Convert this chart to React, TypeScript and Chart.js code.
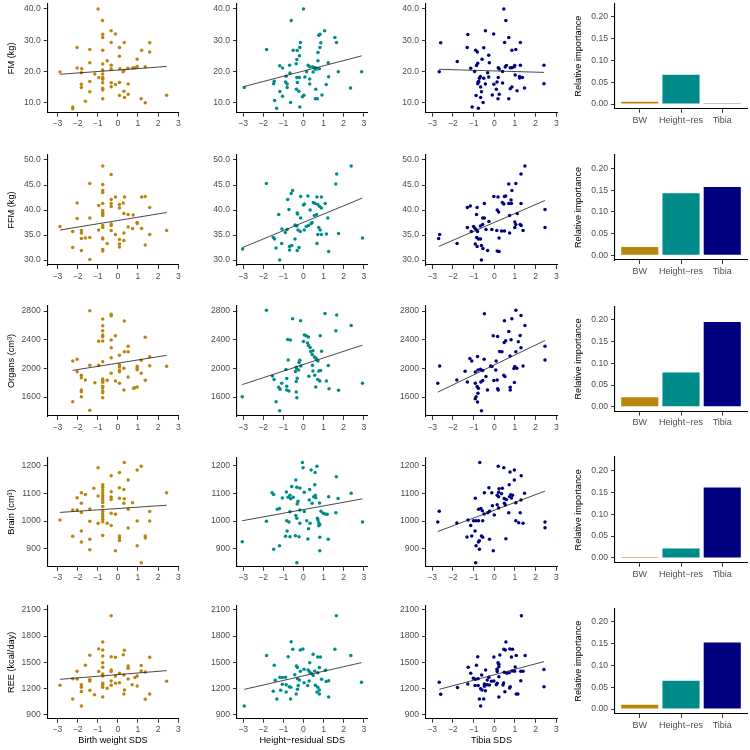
import React, { useEffect, useRef } from "react";
import { Chart, registerables } from "chart.js";

Chart.register(...registerables);

// ---------------- data ----------------
const xTickValues = [-3, -2, -1, 0, 1, 2, 3];
const fmTicks = [10, 20, 30, 40];
const ffmTicks = [30, 35, 40, 45, 50];
const organTicks = [1600, 2000, 2400, 2800];
const brainTicks = [900, 1000, 1100, 1200];
const reeTicks = [900, 1200, 1500, 1800, 2100];
const barTicks = [0, 0.05, 0.1, 0.15, 0.2];
const barCategories = ["BW", "Height\u2212res", "Tibia"];
const predictorTitles = ["Birth weight SDS", "Height\u2212residual SDS", "Tibia SDS"];
const outcomeTitles = ["FM (kg)", "FFM (kg)", "Organs (cm\u00b3)", "Brain (cm\u00b3)", "REE (kcal/day)"];
const importanceTitle = "Relative importance";

type P = [number, number][];

const fmBW: P = [[-0.98,40.0],[-0.76,36.3],[-0.75,31.9],[-0.75,30.9],[-0.33,33.0],[-0.12,32.0],[-0.33,29.3],[0.32,29.3],[1.58,29.2],[-2.02,27.7],[-1.39,27.0],[-0.75,26.8],[0.08,27.7],[1.18,26.8],[1.58,26.2],[0.08,24.9],[0.96,23.9],[-1.39,22.8],[-0.53,23.4],[-0.75,22.4],[-0.33,22.0],[-0.33,20.8],[-2.02,21.1],[-1.79,20.9],[0.1,20.9],[0.5,21.0],[0.73,21.1],[0.85,21.2],[0.96,21.6],[1.36,21.5],[-2.87,19.8],[-1.81,19.6],[-1.14,19.2],[-0.95,18.1],[-0.75,20.5],[-0.75,19.2],[-0.75,18.1],[-0.75,17.5],[-0.75,16.4],[0.3,20.3],[0.26,19.9],[-1.39,16.8],[-0.33,16.4],[-0.33,15.1],[0.08,16.5],[-0.12,15.8],[0.51,16.0],[-1.81,15.9],[-1.81,14.9],[-0.75,14.6],[-0.75,14.1],[-1.39,13.5],[0.3,13.7],[0.08,12.3],[0.33,11.7],[0.51,12.7],[2.42,12.4],[-0.75,11.3],[1.16,11.3],[-1.61,10.5],[1.36,10.0],[-2.24,8.6],[-2.24,8.1]];
const fmHres: P = [[0,40.0],[-0.61,36.3],[1.05,33.0],[0.82,31.9],[0.76,31.6],[1.56,30.9],[1.64,29.3],[-0.15,29.3],[0.86,29.2],[-1.83,27.0],[-0.18,27.7],[0.82,27.7],[-0.51,26.8],[-0.31,26.7],[0.72,26.1],[-0.2,25.0],[-0.33,23.8],[-0.36,22.5],[0.72,23.4],[1.23,22.8],[-0.69,22.0],[-1.18,21.8],[-1.04,21.1],[0.23,22.0],[0.31,21.5],[0.46,21.5],[0.59,21.2],[0.69,20.9],[0.79,20.9],[0.59,20.7],[0.16,19.9],[0.48,19.8],[1.73,19.9],[2.89,19.9],[-0.86,18.5],[-0.67,19.5],[-0.33,18.1],[-0.2,18.1],[0.07,18.2],[0.31,17.6],[1.25,18.3],[-1.45,16.9],[-1.48,16.1],[-0.89,16.6],[-0.81,16.0],[-0.81,14.9],[-0.3,16.5],[0.31,16.0],[1.13,15.8],[-1.17,13.6],[-0.35,14.3],[-0.23,13.7],[0.61,14.3],[2.34,14.7],[-1.04,12.1],[0.02,12.4],[-0.05,11.9],[0.92,12.5],[0.59,11.3],[0.69,11.3],[-1.43,10.7],[-0.64,10.1],[-1.33,8.2],[-0.18,8.6],[-2.94,14.9]];
const fmTibia: P = [[0.46,40.0],[0.56,36.3],[-0.43,33.0],[-1.28,31.8],[-0.03,32.0],[0.7,30.9],[-2.59,29.2],[0.5,29.3],[1.26,29.3],[-1.31,27.7],[-0.51,27.6],[-0.9,26.8],[-0.82,26.2],[0.85,26.8],[1.04,27.0],[-0.27,25.2],[-0.59,23.9],[-1.79,23.2],[-0.24,22.8],[-0.8,22.6],[-0.86,21.9],[2.4,22.0],[1.26,22.0],[0.53,21.4],[0.58,21.9],[0.77,21.2],[0.85,21.2],[0.96,21.5],[0.99,21.9],[0.19,21.2],[0.24,20.8],[-1.14,21.0],[-2.66,19.9],[-0.95,20.0],[-0.32,19.6],[0.4,20.0],[1.01,18.9],[-0.67,18.4],[-0.72,17.8],[-0.75,16.8],[-0.78,16.6],[-0.51,17.8],[-0.27,18.2],[0.19,18.1],[1.22,17.9],[1.36,18.1],[1.22,18.4],[-0.8,16.1],[-0.43,16.0],[0.13,16.6],[0.4,16.3],[-0.02,15.9],[2.4,16.1],[-0.66,15.0],[0.85,15.0],[0.77,14.5],[1.46,14.7],[-0.62,13.5],[0.1,14.3],[1.1,13.8],[-0.88,12.3],[-0.66,11.7],[-0.1,12.5],[0.24,12.7],[0.18,11.3],[0.7,11.3],[-0.54,10.1],[-1.07,8.6],[-0.77,8.2]];

const ffmBW: P = [[-0.75,48.8],[-0.33,47.1],[-1.39,45.3],[-0.75,45.1],[-0.75,43.9],[-0.75,43.5],[-0.33,42.1],[-0.12,42.6],[0.33,42.6],[1.18,42.6],[1.36,42.7],[-2.02,41.4],[-0.75,41.3],[-0.95,40.9],[-0.33,41.3],[-0.33,40.7],[0.08,41.1],[0.08,40.4],[0.27,41.4],[1.58,40.5],[-0.75,39.9],[-0.75,39.5],[-0.75,39.2],[-0.75,38.9],[0.3,39.3],[0.51,39.1],[0.76,39.0],[-2.02,38.3],[-1.39,38.4],[0.96,37.5],[0.96,37.3],[-0.33,37.2],[-0.33,36.9],[-0.75,36.9],[-0.75,36.5],[-2.87,36.7],[0.51,36.6],[0.73,36.3],[1.18,36.3],[-0.95,36.0],[-0.33,35.9],[2.42,35.9],[-2.24,35.7],[-1.81,35.9],[-1.81,35.4],[0.3,35.4],[-0.12,35.1],[1.58,35.1],[-1.81,34.3],[-1.61,34.4],[-1.39,34.5],[-0.75,34.4],[-0.75,34.2],[0.3,33.9],[0.08,34.1],[-0.53,33.3],[0.08,33.2],[0.08,32.6],[1.36,33.0],[-2.24,32.5],[-0.75,32.1],[-0.75,31.8],[-1.81,31.9],[-1.39,30.1]];
const ffmHres: P = [[2.37,48.8],[1.65,47.2],[-1.84,45.3],[1.61,45.2],[-0.54,43.9],[-0.61,43.3],[-0.78,42.1],[-0.14,42.7],[0.22,42.8],[0.67,42.6],[0.89,42.6],[0.05,41.2],[0,41.0],[0.49,41.5],[0.58,41.3],[0.71,41.1],[0.8,40.7],[0.89,40.4],[1.08,41.3],[-0.72,40.1],[0.33,40.0],[-0.31,39.4],[-0.29,39.2],[-1.23,39.1],[0.54,38.9],[0.65,39.1],[-0.14,38.4],[1.21,38.4],[-0.42,37.0],[-0.33,36.8],[0.14,36.7],[0.25,36.9],[0.38,37.3],[0.43,37.5],[0.76,36.5],[0.83,36.0],[-1.07,36.2],[-0.81,36.1],[-0.9,35.5],[-0.27,36.0],[-0.16,35.7],[0.04,36.0],[-1.5,34.5],[-1.43,34.2],[-0.42,34.2],[0.71,35.1],[0.89,35.1],[1.14,35.2],[1.74,35.3],[2.93,34.4],[-1.08,33.3],[0.67,33.3],[-1.36,32.4],[-0.69,32.7],[-0.58,32.9],[-0.22,32.5],[-0.69,32.0],[-0.31,31.9],[1.25,31.7],[-1.18,30.0],[-3.02,32.2]];
const ffmTibia: P = [[1.48,48.8],[1.29,47.2],[0.7,45.2],[1.04,45.3],[0.85,43.9],[-0.02,42.7],[0.18,42.6],[0.49,42.7],[0.55,42.8],[0.81,42.0],[-0.48,41.3],[0.39,41.5],[0.46,41.2],[0.7,41.3],[0.83,41.3],[1.29,41.3],[-1.3,40.5],[-1.16,40.8],[-0.83,40.5],[2.45,40.1],[0.14,40.0],[0.21,39.6],[-0.86,39.1],[1.11,39.3],[0.74,38.9],[-0.56,38.4],[-0.48,38.4],[-0.26,37.7],[-0.67,36.8],[-0.56,37.1],[0.99,37.6],[1.04,37.1],[1.25,37.1],[1.3,36.9],[0.99,36.5],[-1.3,36.5],[-1.0,36.7],[-0.93,36.3],[-0.86,36.0],[-0.81,35.7],[-1.11,35.7],[-0.4,36.1],[-0.12,36.1],[0.12,35.9],[0.35,35.8],[0.49,35.8],[1.39,35.9],[2.45,36.5],[-2.64,35.1],[-2.69,34.3],[-1.8,33.3],[-0.85,34.5],[-0.77,34.2],[-0.67,34.2],[0.23,34.4],[0.74,35.4],[-0.92,33.2],[-0.83,32.7],[-0.62,32.9],[-0.55,32.3],[-0.32,31.9],[0.14,31.8],[0.23,31.7],[-0.62,30.0]];

const orgBW: P = [[-1.39,2805],[-0.33,2754],[-0.33,2735],[-0.75,2688],[0.32,2660],[-0.75,2595],[-0.75,2526],[-0.75,2465],[-0.75,2442],[-0.12,2456],[-0.95,2377],[-0.75,2381],[1.36,2433],[-0.33,2395],[0.51,2307],[-0.33,2288],[0.32,2233],[0.51,2233],[0.08,2181],[1.58,2163],[-0.33,2149],[-2.02,2126],[-2.24,2102],[1.16,2112],[-0.75,2093],[0.08,2051],[0.08,2023],[-1.39,2042],[-0.95,2042],[1.58,2037],[2.42,2028],[0.96,2028],[0.96,2000],[0.96,1981],[0.3,2000],[0.08,1977],[0.08,1953],[-0.33,1930],[-2.02,1953],[1.16,1930],[-1.81,1902],[-1.81,1870],[0.51,1879],[-0.75,1851],[-0.75,1828],[-0.75,1805],[-0.53,1833],[-1.61,1837],[-0.12,1823],[1.36,1833],[-1.14,1800],[0.08,1791],[-0.75,1749],[-0.75,1730],[0.96,1740],[0.78,1721],[0.85,1730],[-1.81,1698],[-1.81,1674],[-0.75,1684],[-0.75,1660],[0.3,1698],[-1.81,1605],[-0.75,1591],[-2.24,1535],[-1.39,1414]];
const orgHres: P = [[-1.84,2809],[-0.54,2693],[-0.14,2665],[1.07,2767],[1.65,2744],[2.37,2599],[1.61,2525],[-0.78,2403],[-0.65,2394],[0.04,2464],[0.14,2454],[0.25,2436],[0.83,2454],[0,2375],[0.2,2352],[0.25,2319],[0.33,2291],[0.36,2235],[0.47,2244],[0.9,2240],[0.43,2193],[0.54,2160],[0.65,2128],[0.72,2104],[0.61,2146],[-0.76,2118],[-0.18,2114],[-0.22,2081],[-0.13,2034],[0.45,2044],[1.23,2039],[-0.87,1983],[-0.36,2016],[-0.34,1992],[-0.4,1955],[-0.24,1978],[0.47,1964],[0.76,1964],[0.85,1969],[-1.54,1894],[-1.46,1843],[-0.83,1857],[-0.31,1862],[-0.36,1815],[0.71,1843],[0.81,1824],[1.14,1824],[0.27,1890],[0.56,1904],[-1.08,1792],[2.93,1792],[-0.83,1750],[-0.72,1684],[-0.83,1698],[-1.23,1736],[-1.16,1708],[-0.36,1670],[0.61,1740],[1.27,1717],[1.74,1694],[-3.04,1605],[-0.33,1591],[-1.36,1535],[-1.18,1409]];
const orgTibia: P = [[-0.48,2763],[1.04,2809],[1.29,2739],[1.48,2599],[0.49,2665],[0.85,2693],[-0.05,2454],[0.16,2445],[0.48,2361],[0.55,2384],[0.7,2515],[0.81,2398],[1.25,2459],[1.16,2370],[1.29,2286],[0.26,2235],[0.37,2230],[0.76,2174],[1.04,2230],[2.45,2310],[2.45,2118],[-1.18,2137],[-1.09,2104],[-0.81,2165],[-0.49,2128],[-2.64,2034],[-0.18,2034],[-0.11,2025],[0.09,2104],[-0.79,1978],[-0.67,1988],[-0.56,1969],[-0.92,1950],[-1.41,1960],[0.07,1978],[1.39,2034],[0.99,2025],[1.09,2002],[0.95,1997],[-0.4,1885],[-0.02,1829],[0.14,1838],[-0.56,1829],[-0.65,1810],[0.46,1904],[0.51,1885],[-1.81,1838],[-2.73,1792],[-0.92,1792],[0.97,1801],[-1.3,1810],[-0.83,1745],[-0.77,1722],[-0.33,1699],[0.19,1699],[0.16,1717],[0.77,1736],[0.77,1699],[-0.79,1652],[-0.88,1605],[-0.92,1577],[-0.81,1530],[-0.62,1409]];

const brainBW: P = [[0.32,1211],[1.16,1198],[-0.98,1192],[0.96,1184],[0.08,1175],[-0.33,1163],[0.51,1148],[-0.75,1131],[-0.75,1122],[-0.75,1112],[-0.75,1102],[-1.19,1118],[-0.33,1106],[0.08,1120],[0.3,1114],[2.42,1102],[-1.81,1102],[-1.61,1096],[-0.75,1092],[-0.75,1084],[-0.75,1076],[-0.75,1067],[-0.33,1087],[-0.33,1078],[-2.02,1084],[0.08,1082],[0.32,1080],[-0.98,1090],[-1.81,1064],[0.3,1064],[0.73,1066],[-0.75,1052],[-1.39,1043],[-2.24,1040],[-2.02,1040],[0.51,1042],[-1.81,1031],[-0.75,1034],[-0.75,1025],[-0.75,1016],[-0.75,1006],[-0.75,997],[-0.33,1028],[-0.12,1024],[1.58,1034],[-2.87,1004],[-1.39,999],[0.96,1000],[1.58,1000],[-0.98,992],[-0.53,992],[-0.33,984],[0.51,975],[0.08,946],[0.08,939],[-1.81,964],[-0.75,948],[-2.24,945],[1.36,946],[1.36,939],[-1.39,934],[-1.81,924],[0.08,930],[0.96,911],[-1.39,896],[-0.12,893],[1.16,849]];
const brainHres: P = [[-0.05,1211],[-0.02,1192],[0.38,1184],[0.67,1198],[0.58,1175],[1.63,1160],[-0.38,1148],[-0.33,1122],[-0.18,1119],[0.31,1114],[-0.58,1125],[0.56,1131],[2.37,1100],[-0.85,1105],[-0.67,1093],[-0.63,1080],[-0.51,1086],[0.04,1104],[0.51,1088],[0.58,1093],[0.61,1084],[1.25,1088],[-1.56,1102],[-1.48,1096],[-1.05,1083],[-0.76,1086],[1.72,1081],[-0.27,1071],[-0.31,1061],[0.29,1076],[0.8,1065],[0.43,1064],[-1.3,1042],[-1.19,1045],[-0.67,1033],[-0.18,1040],[0.04,1034],[0.87,1035],[0.98,1028],[1.08,1025],[1.18,1024],[1.61,1030],[-1.84,999],[-0.83,1001],[-0.72,996],[-0.38,1020],[-0.33,1010],[0.16,1001],[0.33,992],[0.72,1004],[0.76,994],[0.81,987],[0.76,983],[0.69,1010],[2.93,996],[-0.18,992],[0.25,972],[-0.81,964],[-0.89,945],[-0.67,943],[-0.4,947],[-0.22,943],[0.22,935],[0.81,941],[1.23,934],[-3.04,925],[-1.19,911],[-1.48,898],[0.81,893],[-0.33,849]];
const brainTibia: P = [[-0.7,1211],[0.19,1198],[0.46,1192],[0.97,1184],[0.76,1177],[1.3,1163],[0.97,1148],[0.72,1131],[-0.26,1120],[0.23,1116],[0.39,1118],[-0.48,1102],[-0.12,1102],[1.46,1100],[-0.92,1082],[0.21,1104],[0.14,1093],[0.21,1088],[0.35,1098],[0.48,1081],[0.58,1078],[0.74,1088],[0.83,1083],[0.88,1093],[0.79,1095],[1.04,1066],[1.29,1076],[-0.09,1055],[0.14,1059],[0.21,1047],[0.49,1064],[0.53,1058],[-0.76,1042],[-0.65,1045],[-0.58,1037],[-0.32,1030],[-0.23,1035],[-0.49,1025],[0.7,1030],[1.25,1030],[-2.66,1035],[-2.73,996],[-1.81,993],[-1.27,1004],[-1.0,1001],[-0.88,1001],[-0.76,1001],[-0.56,1001],[-1.14,984],[0,1022],[1.04,1001],[1.18,994],[1.39,992],[2.45,996],[2.45,976],[-0.93,964],[-1.32,942],[-1.09,946],[-0.62,946],[-0.56,941],[-0.23,934],[0.56,936],[-0.72,929],[-0.77,924],[-0.88,911],[-0.72,898],[-0.05,893],[-0.9,849]];

const reeBW: P = [[-0.33,2035],[-0.75,1732],[-0.95,1651],[-0.75,1640],[0.32,1636],[0.27,1586],[-1.39,1579],[-0.75,1571],[-0.33,1563],[-0.12,1556],[1.58,1556],[-0.75,1494],[-1.61,1464],[1.16,1460],[0.51,1456],[0.51,1429],[-0.75,1440],[-0.33,1410],[-0.33,1391],[-0.95,1391],[-2.02,1394],[1.16,1398],[1.36,1387],[-0.75,1364],[-0.75,1341],[0.08,1371],[0.3,1352],[0.96,1341],[-0.12,1341],[-1.39,1299],[-1.39,1283],[0.85,1322],[-2.24,1310],[-2.02,1306],[0.51,1306],[-0.33,1283],[0.08,1264],[-0.12,1256],[-0.75,1256],[-0.75,1237],[-0.75,1210],[2.42,1279],[-0.53,1199],[0.71,1241],[0.96,1226],[-0.33,1233],[-2.87,1233],[-1.81,1241],[-1.81,1210],[-1.81,1161],[0.33,1180],[-1.39,1176],[0.3,1134],[-1.16,1126],[1.58,1134],[-0.75,1099],[-2.24,1076],[1.36,1072],[-1.81,995]];
const reeHres: P = [[1.63,2035],[-0.61,1736],[-0.03,1651],[-0.16,1640],[-0.53,1648],[1.56,1648],[-1.83,1575],[-0.76,1563],[2.35,1575],[0.48,1590],[0.71,1559],[0.84,1559],[0.31,1494],[-1.45,1464],[-0.35,1456],[-0.3,1437],[0.03,1418],[0.79,1437],[0.23,1410],[0.3,1387],[0.39,1371],[0.56,1398],[0.71,1379],[1.09,1406],[-0.15,1394],[-0.43,1356],[0.48,1345],[0.9,1302],[-1.17,1326],[-1.04,1322],[-0.89,1326],[-1.4,1291],[-0.3,1310],[-0.2,1295],[1.13,1276],[1.25,1287],[2.88,1268],[0.28,1283],[0.03,1264],[-1.05,1245],[-0.86,1241],[-0.71,1218],[-0.63,1210],[-0.26,1230],[0.21,1230],[0.59,1233],[0.71,1210],[0.79,1180],[-1.5,1164],[-1.13,1176],[-0.86,1157],[-0.3,1187],[-0.36,1134],[0.67,1157],[0.79,1134],[1.25,1099],[-1.32,1076],[-0.64,1076],[-2.94,995]];
const reeTibia: P = [[1.31,2035],[0.56,1732],[0.46,1648],[0.53,1640],[0.75,1651],[0.88,1648],[0.27,1583],[-0.8,1563],[-0.02,1559],[1.06,1575],[1.49,1575],[0.83,1559],[0.18,1494],[0.22,1475],[-0.86,1464],[-1.26,1440],[0.22,1448],[1.01,1444],[-0.42,1410],[0.13,1418],[0.86,1398],[0.98,1394],[1.28,1394],[1.39,1394],[2.4,1414],[-1.14,1371],[0.14,1391],[0.48,1383],[0.61,1371],[0.72,1379],[0.22,1333],[-0.61,1352],[-0.26,1326],[-1.01,1314],[-0.91,1302],[-0.78,1310],[-0.34,1295],[-0.02,1283],[-0.14,1279],[1.28,1287],[-1.28,1249],[-2.66,1268],[-0.48,1249],[-0.35,1241],[-0.24,1237],[0.14,1256],[0.1,1241],[0.45,1260],[-0.93,1230],[-0.78,1230],[0.42,1237],[0.77,1218],[0.74,1203],[-1.78,1207],[2.4,1218],[-0.66,1195],[-0.59,1180],[-0.43,1172],[-0.48,1222],[0.51,1160],[-2.59,1130],[1.06,1134],[1.14,1134],[0.22,1099],[-0.72,1076],[-0.51,1076],[-0.66,995]];

// fitted regression lines: [xStart, yStart, xEnd, yEnd] for BW, Height-res, Tibia
const fmFits = [[-2.87, 19.1, 2.42, 21.6], [-2.94, 15.2, 2.89, 25.0], [-2.66, 20.7, 2.4, 19.7]];
const ffmFits = [[-2.87, 36.0, 2.42, 39.5], [-3.02, 32.5, 2.93, 42.4], [-2.69, 32.7, 2.45, 41.9]];
const orgFits = [[-2.24, 1972, 2.42, 2181], [-3.04, 1773, 2.93, 2324], [-2.73, 1668, 2.45, 2389]];
const brainFits = [[-2.87, 1031, 2.42, 1057], [-3.04, 1001, 2.93, 1080], [-2.73, 962, 2.45, 1108]];
const reeFits = [[-2.87, 1302, 2.42, 1402], [-2.94, 1187, 2.88, 1494], [-2.66, 1187, 2.4, 1506]];

// relative importance (BW, Height-res, Tibia)
const fmImportance = [0.005, 0.067, 0.0015];
const ffmImportance = [0.019, 0.143, 0.157];
const orgImportance = [0.022, 0.079, 0.195];
const brainImportance = [0.0023, 0.0215, 0.161];
const reeImportance = [0.010, 0.065, 0.153];

// ---------------- styling / layout ----------------
const FONT = "'Liberation Sans', Arial, Helvetica, sans-serif";
const COLORS = ["#B8860B", "#008B8B", "#000080"];
const TICK_FONT = { family: FONT, size: 8.6 };
const TITLE_FONT = { family: FONT, size: 9.2 };
const TICK_COLOR = "#4D4D4D";

const rowsData = [
  { points: [fmBW, fmHres, fmTibia], fits: fmFits, ticks: fmTicks, dec: 1, imp: fmImportance, yMin: 6.8, yMax: 41.6 },
  { points: [ffmBW, ffmHres, ffmTibia], fits: ffmFits, ticks: ffmTicks, dec: 1, imp: ffmImportance, yMin: 29, yMax: 51 },
  { points: [orgBW, orgHres, orgTibia], fits: orgFits, ticks: organTicks, dec: 0, imp: orgImportance, yMin: 1335, yMax: 2870 },
  { points: [brainBW, brainHres, brainTibia], fits: brainFits, ticks: brainTicks, dec: 0, imp: brainImportance, yMin: 835, yMax: 1230 },
  { points: [reeBW, reeHres, reeTibia], fits: reeFits, ticks: reeTicks, dec: 0, imp: reeImportance, yMin: 849, yMax: 2146 },
];

const COL_GEOM = [
  { left: 47.7, right: 178.3, xMin: -3.48, xMax: 3.0 },
  { left: 237, right: 367.5, xMin: -3.3, xMax: 3.18 },
  { left: 426, right: 557, xMin: -3.3, xMax: 3.03 },
];
const ROW_GEOM = [
  { top: 4, bottom: 112.7, barTop: 3.5, barBottom: 108.8 },
  { top: 155, bottom: 265, barTop: 155, barBottom: 260 },
  { top: 306, bottom: 416, barTop: 306.5, barBottom: 411.5 },
  { top: 457.3, bottom: 566.7, barTop: 457, barBottom: 562.7 },
  { top: 606, bottom: 718.7, barTop: 608.5, barBottom: 713.8 },
];
const BAR_GEOM = { left: 615, right: 747, yMin: -0.011, yMax: 0.231 };

function geom(cl: number, ct: number, cr: number, cb: number, leftRoom: number, bottomRoom: number) {
  const L = Math.floor(cl - leftRoom);
  const T = Math.floor(ct - 12);
  const W = Math.ceil(cr + 10 - L);
  const H = Math.ceil(cb + bottomRoom - T);
  return { L, T, W, H, yW: cl - L, padTop: ct - T, padRight: W - (cr - L), xH: H - (cb - T) };
}

const fmtX = (v: number) => (v < 0 ? "\u2212" + Math.abs(v) : String(v));

function axisCommon() {
  return {
    grid: { drawOnChartArea: false, drawTicks: true, tickLength: 4, color: "#333333", lineWidth: 1, offset: false },
    border: { display: true, color: "#000000", width: 1.1 },
  };
}

function ScatterPanel({ r, c }: { r: number; c: number }) {
  const ref = useRef<HTMLCanvasElement>(null);
  const row = rowsData[r];
  const rg = ROW_GEOM[r];
  const cg = COL_GEOM[c];
  const isLast = r === ROW_GEOM.length - 1;
  const g = geom(cg.left, rg.top, cg.right, rg.bottom, c === 0 ? cg.left : 36, isLast ? 750 - rg.bottom : 22);

  useEffect(() => {
    const pts = row.points[c];
    const fit = row.fits[c];
    const chart = new Chart(ref.current!, {
      type: "scatter",
      data: {
        datasets: [
          {
            data: [{ x: fit[0], y: fit[1] }, { x: fit[2], y: fit[3] }],
            showLine: true,
            pointRadius: 0,
            borderColor: "#1a1a1a",
            borderWidth: 0.8,
          } as any,
          {
            data: pts.map(([x, y]) => ({ x, y })),
            pointRadius: 1.75,
            pointBorderWidth: 0,
            backgroundColor: COLORS[c],
            borderColor: COLORS[c],
          },
        ],
      },
      options: {
        responsive: false,
        animation: false,
        devicePixelRatio: 1,
        events: [],
        layout: { padding: { left: 0, top: g.padTop, right: g.padRight, bottom: 0 } },
        plugins: { legend: { display: false }, tooltip: { enabled: false } },
        scales: {
          x: {
            type: "linear",
            min: cg.xMin,
            max: cg.xMax,
            offset: false,
            afterBuildTicks: (s: any) => { s.ticks = xTickValues.map((v) => ({ value: v })); },
            afterFit: (s: any) => { s.height = g.xH; },
            ticks: { callback: (v: any) => fmtX(Number(v)), font: TICK_FONT, color: TICK_COLOR, padding: 2, maxRotation: 0, autoSkip: false },
            title: { display: isLast, text: predictorTitles[c], font: TITLE_FONT, color: "#000", padding: { top: 0, bottom: 3.6 } },
            ...axisCommon(),
          },
          y: {
            type: "linear",
            min: row.yMin,
            max: row.yMax,
            afterBuildTicks: (s: any) => { s.ticks = row.ticks.map((v) => ({ value: v })); },
            afterFit: (s: any) => { s.width = g.yW; },
            ticks: { callback: (v: any) => Number(v).toFixed(row.dec), font: TICK_FONT, color: TICK_COLOR, padding: 3, autoSkip: false },
            title: { display: c === 0, text: outcomeTitles[r], font: TITLE_FONT, color: "#000", padding: { top: 6, bottom: 0 } },
            ...axisCommon(),
          },
        },
      } as any,
    });
    return () => chart.destroy();
  }, []);

  return (
    <canvas
      ref={ref}
      width={g.W}
      height={g.H}
      style={{ position: "absolute", left: g.L, top: g.T, width: g.W, height: g.H }}
    />
  );
}

function BarPanel({ r }: { r: number }) {
  const ref = useRef<HTMLCanvasElement>(null);
  const row = rowsData[r];
  const rg = ROW_GEOM[r];
  const g = geom(BAR_GEOM.left, rg.barTop, BAR_GEOM.right, rg.barBottom, 52, 24);

  useEffect(() => {
    const chart = new Chart(ref.current!, {
      type: "bar",
      data: {
        datasets: [
          {
            data: row.imp.map((v, i) => ({ x: i, y: v })),
            backgroundColor: COLORS,
            borderWidth: 0,
            barPercentage: 0.9,
            categoryPercentage: 1,
          },
        ],
      },
      options: {
        responsive: false,
        animation: false,
        devicePixelRatio: 1,
        events: [],
        layout: { padding: { left: 0, top: g.padTop, right: g.padRight, bottom: 0 } },
        plugins: { legend: { display: false }, tooltip: { enabled: false } },
        scales: {
          x: {
            type: "linear",
            min: -0.6,
            max: 2.6,
            offset: false,
            afterBuildTicks: (s: any) => { s.ticks = barCategories.map((_, i) => ({ value: i })); },
            afterFit: (s: any) => { s.height = g.xH; },
            ticks: { callback: (v: any) => barCategories[Math.round(Number(v))], font: { family: FONT, size: 9 }, color: TICK_COLOR, padding: 2, maxRotation: 0, autoSkip: false },
            ...axisCommon(),
          },
          y: {
            type: "linear",
            min: BAR_GEOM.yMin,
            max: BAR_GEOM.yMax,
            afterBuildTicks: (s: any) => { s.ticks = barTicks.map((v) => ({ value: v })); },
            afterFit: (s: any) => { s.width = g.yW; },
            ticks: { callback: (v: any) => Number(v).toFixed(2), font: TICK_FONT, color: TICK_COLOR, padding: 3, autoSkip: false },
            title: { display: true, text: importanceTitle, font: TITLE_FONT, color: "#000", padding: { top: 9.5, bottom: 0 } },
            ...axisCommon(),
          },
        },
      } as any,
    });
    return () => chart.destroy();
  }, []);

  return (
    <canvas
      ref={ref}
      width={g.W}
      height={g.H}
      style={{ position: "absolute", left: g.L, top: g.T, width: g.W, height: g.H }}
    />
  );
}

export default function App() {
  return (
    <div style={{ position: "absolute", left: 0, top: 0, width: 750, height: 750, background: "#ffffff", overflow: "hidden" }}>
      {ROW_GEOM.map((_, r) => (
        <React.Fragment key={r}>
          {[0, 1, 2].map((c) => (
            <ScatterPanel key={c} r={r} c={c} />
          ))}
          <BarPanel r={r} />
        </React.Fragment>
      ))}
    </div>
  );
}
